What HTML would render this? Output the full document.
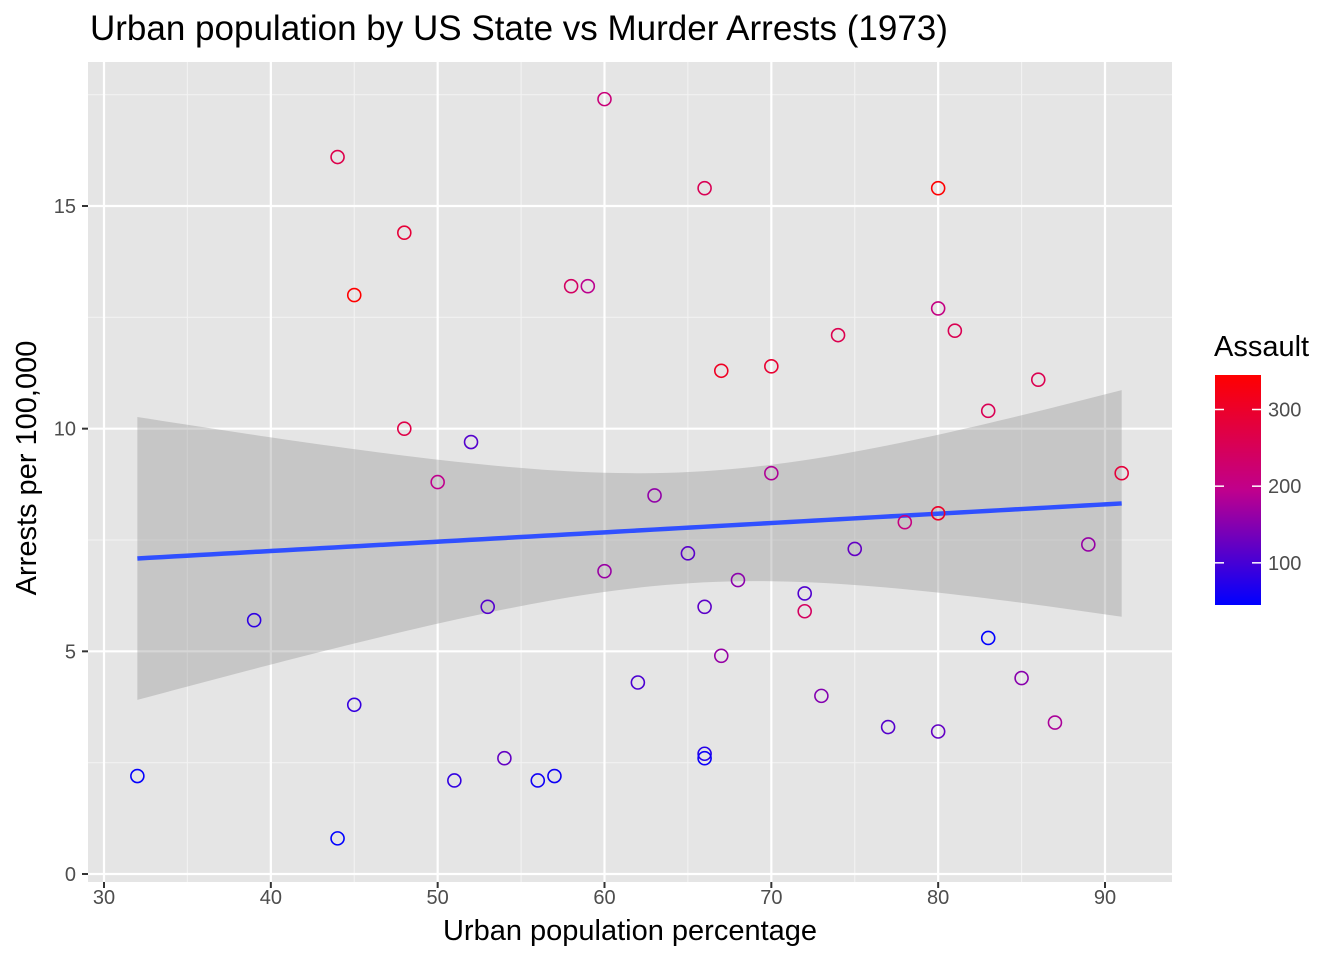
<!DOCTYPE html>
<html><head><meta charset="utf-8"><style>
body{margin:0;background:#fff;font-family:"Liberation Sans",Arial,sans-serif}
svg text{font-family:"Liberation Sans",Arial,sans-serif}
</style></head><body>
<svg id="chart" width="1344" height="960">
<defs><linearGradient id="cg" x1="0" y1="1" x2="0" y2="0">
<stop offset="0" stop-color="#0000ff"/><stop offset="0.5" stop-color="#c0008c"/><stop offset="1" stop-color="#ff0000"/></linearGradient></defs>
<text x="90" y="40" font-size="35" fill="#000">Urban population by US State vs Murder Arrests (1973)</text>
<rect x="88" y="62" width="1084" height="820" fill="#e5e5e5"/>
<g id="grid"></g><g id="band"></g><g id="pts"></g><g id="axes"></g>
<text x="630" y="940" font-size="29" text-anchor="middle" fill="#000">Urban population percentage</text>
<text transform="translate(36,468) rotate(-90)" font-size="29" text-anchor="middle" fill="#000">Arrests per 100,000</text>
<g>
<text x="1214" y="356" font-size="29" fill="#000">Assault</text>
<rect x="1215" y="375" width="46" height="230" fill="url(#cg)"/>
<g id="leg"></g></g>
</svg>
<script>
const urbanPop=[58,48,80,50,91,78,77,72,80,60,83,54,83,65,57,66,52,66,51,67,85,74,66,44,70,53,62,81,56,89,70,86,45,44,75,68,67,72,87,48,45,59,80,80,32,63,73,39,66,60];
const murder=[13.2,10.0,8.1,8.8,9.0,7.9,3.3,5.9,15.4,17.4,5.3,2.6,10.4,7.2,2.2,6.0,9.7,15.4,2.1,11.3,4.4,12.1,2.7,16.1,9.0,6.0,4.3,12.2,2.1,7.4,11.4,11.1,13.0,0.8,7.3,6.6,4.9,6.3,3.4,14.4,3.8,13.2,12.7,3.2,2.2,8.5,4.0,5.7,2.6,6.8];
const assault=[236,263,294,190,276,204,110,238,335,211,46,120,249,113,56,115,109,249,83,300,149,255,72,259,178,109,102,252,57,159,285,254,337,45,120,151,159,106,174,279,86,188,201,120,48,156,145,81,53,161];
const xTicks=[30,40,50,60,70,80,90];
const yTicks=[0,5,10,15];
const legTicks=[100,200,300];
const NS="http://www.w3.org/2000/svg";
const X=v=>104+(v-30)*(1105-104)/60;
const Y=v=>874-v*(874-206)/15;
const aMin=45,aMax=337;
function col(a){const t=(a-aMin)/(aMax-aMin);
 const s=[[0,0,255],[192,0,140],[255,0,0]];
 let c;if(t<0.5){const u=t/0.5;c=s[0].map((v,i)=>Math.round(v+(s[1][i]-v)*u));}
 else{const u=(t-0.5)/0.5;c=s[1].map((v,i)=>Math.round(v+(s[2][i]-v)*u));}
 return`rgb(${c})`;}
function mk(tag,at,parent){const e=document.createElementNS(NS,tag);for(const k in at)e.setAttribute(k,at[k]);document.getElementById(parent).appendChild(e);return e;}
for(let v=35;v<=85;v+=10){const l=mk('line',{x1:X(v),x2:X(v),y1:62,y2:882,stroke:'#f2f2f2','stroke-width':1.1},'grid');
}
for(let v=2.5;v<=17.5;v+=5){const l=mk('line',{x1:88,x2:1172,y1:Y(v),y2:Y(v),stroke:'#f2f2f2','stroke-width':1.1},'grid');
}
xTicks.forEach(v=>{const l=mk('line',{x1:X(v),x2:X(v),y1:62,y2:882,stroke:'#fff','stroke-width':2.2},'grid');

const t=mk('text',{x:X(v),y:904,'font-size':20,'text-anchor':'middle',fill:'#4d4d4d'},'axes');t.textContent=v;

mk('line',{x1:X(v),x2:X(v),y1:882,y2:888,stroke:'#333','stroke-width':2},'axes');});
yTicks.forEach(v=>{const l=mk('line',{x1:88,x2:1172,y1:Y(v),y2:Y(v),stroke:'#fff','stroke-width':2.2},'grid');

const t=mk('text',{x:76,y:Y(v)+7,'font-size':20,'text-anchor':'end',fill:'#4d4d4d'},'axes');t.textContent=v;

mk('line',{x1:82,x2:88,y1:Y(v),y2:Y(v),stroke:'#333','stroke-width':2},'axes');});
const n=urbanPop.length,mx=urbanPop.reduce((a,b)=>a+b)/n,my=murder.reduce((a,b)=>a+b)/n;
let sxx=0,sxy=0;urbanPop.forEach((x,i)=>{sxx+=(x-mx)**2;sxy+=(x-mx)*(murder[i]-my);});
const b=sxy/sxx,a0=my-b*mx;let sse=0;urbanPop.forEach((x,i)=>{sse+=(murder[i]-a0-b*x)**2;});
const s=Math.sqrt(sse/(n-2)),tq=2.0106;
const xmin=Math.min(...urbanPop),xmax=Math.max(...urbanPop);
let up=[],lo=[],ln=[];
for(let k=0;k<=80;k++){const x=xmin+(xmax-xmin)*k/80,f=a0+b*x,se=s*Math.sqrt(1/n+(x-mx)**2/sxx);
up.push(X(x)+','+Y(f+tq*se));lo.unshift(X(x)+','+Y(f-tq*se));ln.push(X(x)+','+Y(f));}
const band=mk('polygon',{points:up.concat(lo).join(' '),fill:'#999','fill-opacity':0.4},'band');

const line=mk('polyline',{points:ln.join(' '),fill:'none',stroke:'#3050ff','stroke-width':4.5},'band');

urbanPop.forEach((x,i)=>{const c=mk('circle',{cx:X(x),cy:Y(murder[i]),r:6.5,fill:'none',stroke:col(assault[i]),'stroke-width':1.6},'pts');
});
const LY=v=>605-(v-aMin)*(230)/(aMax-aMin+8);
legTicks.forEach(v=>{mk('line',{x1:1215,x2:1224,y1:LY(v),y2:LY(v),stroke:'#fff','stroke-width':1.5},'leg');
mk('line',{x1:1252,x2:1261,y1:LY(v),y2:LY(v),stroke:'#fff','stroke-width':1.5},'leg');
const t=mk('text',{x:1268,y:LY(v)+7,'font-size':20,fill:'#4d4d4d'},'leg');t.textContent=v;
});
</script>
</body></html>
